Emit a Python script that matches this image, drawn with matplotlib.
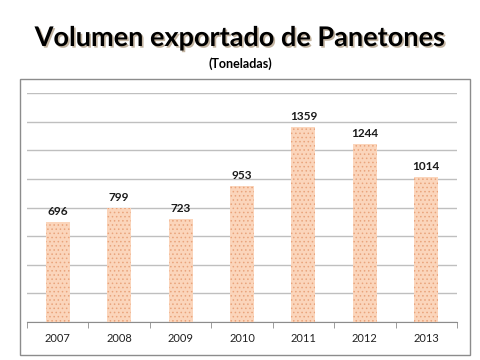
import matplotlib
matplotlib.use('Agg')
import matplotlib.pyplot as plt
import matplotlib.patheffects as pe
from matplotlib.patches import Rectangle

# ── Data ──────────────────────────────────────────────────────────────────────
years = ['2007', '2008', '2009', '2010', '2011', '2012', '2013']
volumen = [696, 799, 723, 953, 1359, 1244, 1014]

title = 'Volumen exportado de Panetones'
subtitle = '(Toneladas)'

# ── Figure ────────────────────────────────────────────────────────────────────
plt.rcParams['font.family'] = ['Lato', 'DejaVu Sans']
plt.rcParams['hatch.linewidth'] = 0.6

fig = plt.figure(figsize=(4.8, 3.6), dpi=100)
fig.patch.set_facecolor('white')

# outer chart frame
fig.add_artist(Rectangle((20 / 480, 1 - 355 / 360), 450 / 480, 276 / 360,
                         transform=fig.transFigure, fill=False,
                         edgecolor='#8c8c8c', linewidth=1.0))

ax = fig.add_axes([27 / 480, 1 - 322 / 360, 430 / 480, 229 / 360])
x = range(len(years))
ax.bar(x, volumen, width=0.39, color='#fbd5bb', edgecolor='#e9a47c',
       hatch='....', linewidth=0, zorder=3)

for xi, v in zip(x, volumen):
    ax.text(xi, v + 35, str(v), ha='center', va='bottom',
            fontsize=8.5, fontweight='bold', color='#1a1a1a')

ax.set_xlim(-0.5, len(years) - 0.5)
ax.set_ylim(0, 1600)
ax.set_yticks(range(0, 1601, 200))
ax.yaxis.grid(True, color='#bfbfbf', linewidth=1.0, zorder=0)
ax.tick_params(axis='y', left=False, labelleft=False)

ax.set_xticks(x)
ax.set_xticklabels(years, fontsize=8, color='#222222')
ax.set_xticks([i - 0.5 for i in range(len(years) + 1)], minor=True)
ax.tick_params(axis='x', which='major', length=0, pad=8)
ax.tick_params(axis='x', which='minor', length=4, color='#8c8c8c', direction='out')

for side in ['top', 'right', 'left']:
    ax.spines[side].set_visible(False)
ax.spines['bottom'].set_color('#8c8c8c')

# ── Titles ────────────────────────────────────────────────────────────────────
fig.text(0.5, 1 - 38 / 360, title, ha='center', va='center',
         fontsize=19.5, fontweight='bold', color='black',
         path_effects=[pe.SimplePatchShadow(offset=(1.2, -1.2), alpha=0.45,
                                            shadow_rgbFace='#7a5a30'),
                       pe.Normal()])
fig.text(0.5, 1 - 64 / 360, subtitle, ha='center', va='center',
         fontsize=9, fontweight='bold', color='black')

fig.savefig('out.png', dpi=100)
plt.close(fig)
